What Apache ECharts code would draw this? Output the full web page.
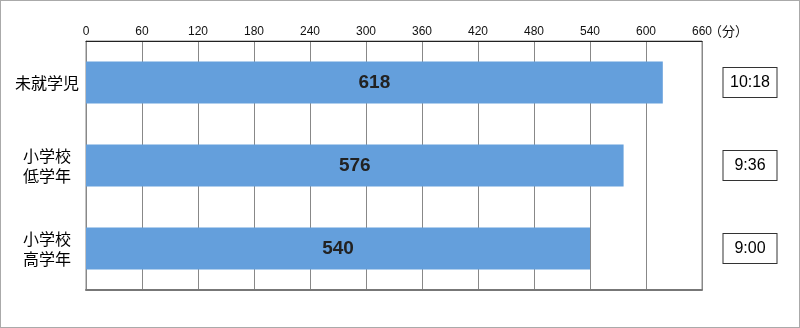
<!DOCTYPE html>
<html><head><meta charset="utf-8">
<script src="https://cdn.jsdelivr.net/npm/echarts@6/dist/echarts.min.js"></script>
<style>
html,body{margin:0;padding:0;background:#fff;}
#wrap{position:relative;width:800px;height:328px;}
#chart{position:absolute;left:0;top:0;width:800px;height:328px;}
#frame{position:absolute;left:0;top:0;width:800px;height:328px;box-sizing:border-box;border:1px solid #aaa;pointer-events:none;}
</style></head>
<body>
<div id="wrap"><div id="chart"></div><div id="frame"></div></div>
<script>
const categories = ['未就学児', '小学校\n低学年', '小学校\n高学年'];
const minutes = [618, 576, 540];
const timeLabels = ['10:18', '9:36', '9:00'];
const axisUnit = '（分）';

const chart = echarts.init(document.getElementById('chart'));
chart.setOption({
  animation: false,
  grid: { left: 86, right: 98, top: 41, bottom: 38, show: true, borderColor: '#888', borderWidth: 1 },
  xAxis: [{
    type: 'value', position: 'top', min: 0, max: 660, interval: 60,
    name: axisUnit, nameLocation: 'end', nameGap: 7, nameMoveOverlap: false,
    nameTextStyle: { fontFamily: 'Noto Sans CJK JP', fontSize: 13, color: '#111', align: 'left', verticalAlign: 'bottom', padding: [0, 0, 3, 0] },
    axisLine: { show: true, lineStyle: { color: '#222', width: 1 } },
    axisTick: { show: false },
    axisLabel: { margin: 3, fontFamily: 'Liberation Sans', fontSize: 12, color: '#111' },
    splitLine: { show: true, lineStyle: { color: '#888', width: 1 } }
  }, {
    type: 'value', position: 'bottom', min: 0, max: 660, interval: 60,
    axisLine: { show: true, lineStyle: { color: '#777', width: 2 } },
    axisTick: { show: false }, axisLabel: { show: false }, splitLine: { show: false }
  }],
  yAxis: [{
    type: 'category', data: categories, inverse: true,
    axisLine: { show: true, lineStyle: { color: '#888' } },
    axisTick: { show: false },
    axisLabel: { margin: 39, align: 'center', fontFamily: 'Noto Sans CJK JP', fontSize: 16, lineHeight: 20, color: '#000' }
  }, {
    type: 'category', data: timeLabels, inverse: true, position: 'right',
    axisLine: { show: false }, axisTick: { show: false },
    axisLabel: {
      margin: 48, fontFamily: 'Liberation Sans', fontSize: 16, color: '#000',
      width: 53, align: 'center', padding: [7, 0, 6, 0],
      borderColor: '#333', borderWidth: 1, backgroundColor: '#fff'
    }
  }],
  series: [{
    type: 'bar', data: minutes, xAxisIndex: 0, yAxisIndex: 0, barWidth: 42,
    itemStyle: { color: '#649fdc' },
    label: { show: true, position: 'inside', fontFamily: 'Liberation Sans', fontWeight: 'bold', fontSize: 19, color: '#222' }
  }]
});
</script>
</body></html>
